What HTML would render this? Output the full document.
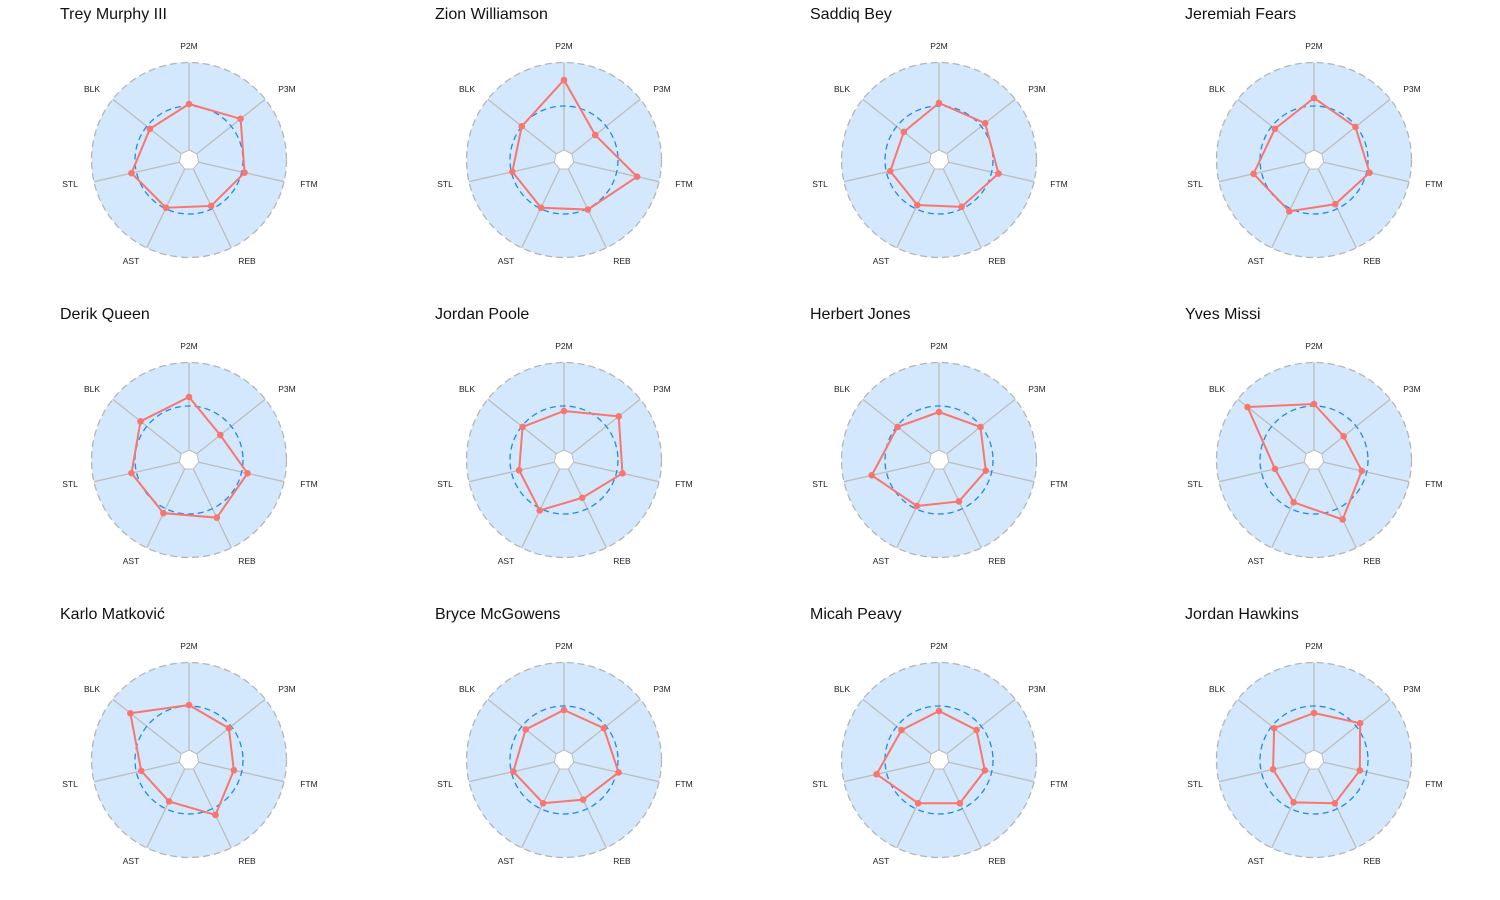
<!DOCTYPE html>
<html><head><meta charset="utf-8"><style>
html,body{margin:0;padding:0;background:#fff;}
svg{display:block;}
text{font-family:"Liberation Sans",sans-serif;}
</style></head><body>
<svg id="s" width="1500" height="900" xmlns="http://www.w3.org/2000/svg"></svg>
<script>
var data=[
["Trey Murphy III",[56,66,57,51,53,59,50]],
["Zion Williamson",[80,40,75,55,53,53,54]],
["Saddiq Bey",[57,59,61,52,50,50,45]],
["Jeremiah Fears",[62,53,57,49,57,62,50]],
["Derik Queen",[63,40,60,64,59,59,62]],
["Jordan Poole",[49,70,60,42,56,46,53]],
["Herbert Jones",[48,53,48,46,51,69,53]],
["Yves Missi",[56,38,49,66,47,40,85]],
["Karlo Matković",[55,51,46,61,46,49,75]],
["Bryce McGowens",[50,51,56,44,48,52,49]],
["Micah Peavy",[49,48,47,48,48,64,48]],
["Jordan Hawkins",[47,59,47,48,47,42,51]]];
var labs=["P2M","P3M","FTM","REB","AST","STL","BLK"];
var off=[[0,-114],[98,-71],[120,24],[58,101],[-58,101],[-119,24],[-97,-71]];
var h='';
data.forEach(function(d,i){
 var cx=189+375*(i%4), cy=160+300*Math.floor(i/4);
 h+='<text x="'+(cx-129)+'" y="'+(cy-141)+'" font-size="16" fill="#111">'+d[0]+'</text>';
 h+='<circle cx="'+cx+'" cy="'+cy+'" r="97.5" fill="#d3e8fc" stroke="#b5b5b5" stroke-width="1.3" stroke-dasharray="7,4"/>';
 var inner='';
 for(var k=0;k<7;k++){
  var a=(-90+k*360/7)*Math.PI/180, c=Math.cos(a), s=Math.sin(a);
  h+='<line x1="'+(cx+10*c)+'" y1="'+(cy+10*s)+'" x2="'+(cx+97.5*c)+'" y2="'+(cy+97.5*s)+'" stroke="#bdbdbd" stroke-width="1.3"/>';
  inner+=(cx+10*c)+','+(cy+10*s)+' ';
  h+='<text x="'+(cx+off[k][0])+'" y="'+(cy+off[k][1]+3)+'" font-size="8.5" fill="#222" text-anchor="middle">'+labs[k]+'</text>';
 }
 h+='<polygon points="'+inner+'" fill="#fff" stroke="#bdbdbd" stroke-width="1"/>';
 h+='<circle cx="'+cx+'" cy="'+cy+'" r="54" fill="none" stroke="#1e88f0" stroke-width="1.3" stroke-dasharray="6,4"/>';
 var pts='',dots='';
 d[1].forEach(function(r,k){
  var a=(-90+k*360/7)*Math.PI/180, x=cx+r*Math.cos(a), y=cy+r*Math.sin(a);
  pts+=x+','+y+' ';
  dots+='<circle cx="'+x+'" cy="'+y+'" r="3.3" fill="#f8766d"/>';
 });
 h+='<polygon points="'+pts+'" fill="none" stroke="#f8766d" stroke-width="2"/>'+dots;
});
document.getElementById('s').innerHTML=h;
</script>
</body></html>
